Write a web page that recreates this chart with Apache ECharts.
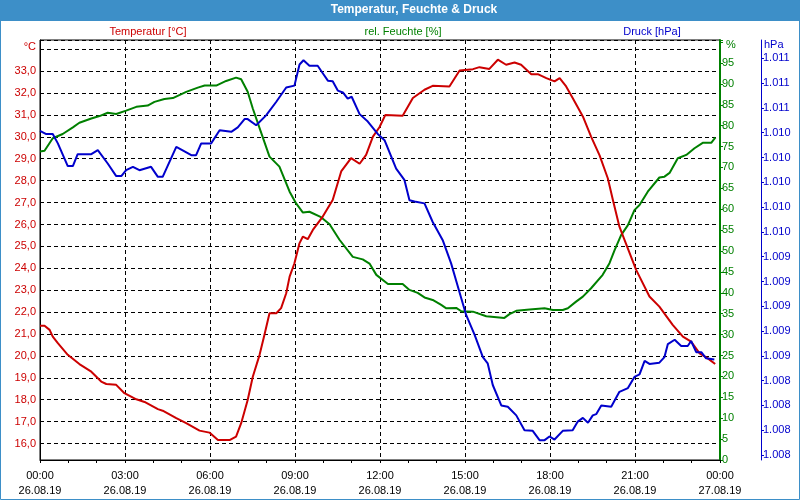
<!DOCTYPE html>
<html>
<head>
<meta charset="utf-8">
<script src="https://cdn.jsdelivr.net/npm/echarts@6/dist/echarts.min.js"></script>
<style>
html,body{margin:0;padding:0;background:#fff;}
#c{width:800px;height:500px;}
</style>
</head>
<body>
<div id="c"></div>
<script>
// Time of day in hours (0 = 26.08.19 00:00, 24 = 27.08.19 00:00)
const xTickHours = [0,3,6,9,12,15,18,21,24];
const seriesNames = ['Temperatur [°C]', 'rel. Feuchte [%]', 'Druck [hPa]'];

const tempTimes = [0.0,0.16,0.34,0.45,0.63,0.98,1.39,1.81,2.16,2.34,2.69,2.98,3.40,3.69,4.16,4.33,4.81,5.16,5.63,5.98,6.28,6.69,6.92,7.10,7.33,7.51,7.75,7.92,8.10,8.34,8.51,8.69,8.81,8.98,9.16,9.28,9.45,9.63,9.98,10.33,10.63,10.98,11.28,11.51,11.75,11.98,12.19,12.80,13.16,13.57,13.86,14.45,14.81,15.28,15.51,15.86,16.16,16.45,16.75,16.98,17.34,17.57,17.87,18.16,18.34,18.57,18.80,19.16,19.45,19.75,20.04,20.22,20.45,20.63,21.04,21.51,21.86,22.33,22.69,22.98,23.28,23.57,23.83];
const tempValues = [21.38,21.38,21.19,20.88,20.58,20.05,19.63,19.28,18.83,18.72,18.68,18.30,18.02,17.90,17.57,17.50,17.16,16.93,16.59,16.50,16.16,16.16,16.32,16.93,17.99,19.05,20.05,20.96,21.95,21.95,22.18,22.86,23.62,24.23,25.15,25.45,25.33,25.75,26.36,27.12,28.42,29.03,28.77,29.18,30.01,30.44,31.00,30.96,31.77,32.15,32.33,32.30,33.03,33.09,33.18,33.10,33.52,33.29,33.39,33.29,32.86,32.86,32.68,32.53,32.68,32.30,31.77,30.93,30.01,29.15,28.11,27.12,25.90,25.30,23.93,22.71,22.25,21.42,20.88,20.65,20.12,19.89,19.63];

const humTimes = [0.0,0.16,0.45,0.80,1.16,1.39,1.81,2.10,2.39,2.69,3.04,3.40,3.80,4.04,4.39,4.69,5.16,5.57,5.81,6.22,6.57,6.92,7.10,7.33,7.51,7.75,8.10,8.45,8.81,9.04,9.28,9.51,9.92,10.22,10.57,11.04,11.39,11.63,11.87,12.28,12.80,13.04,13.33,13.57,13.86,14.16,14.34,14.69,14.87,15.28,15.75,16.39,16.57,16.81,17.28,17.81,18.10,18.45,18.63,18.92,19.16,19.45,19.86,20.10,20.28,20.51,20.75,20.98,21.16,21.45,21.86,22.04,22.22,22.51,22.81,23.10,23.39,23.69,23.84];
const humValues = [73.8,74.0,77.0,78.0,79.6,80.7,81.7,82.3,83.1,82.8,83.6,84.5,84.8,85.7,86.4,86.6,88.1,89.1,89.6,89.6,90.7,91.5,91.1,88.1,84.1,79.4,72.6,70.2,64.2,61.4,59.2,59.4,58.1,56.4,52.7,48.6,48.0,47.0,44.3,42.1,42.1,40.7,40.0,38.9,38.3,37.1,36.3,36.4,35.6,35.5,34.4,34.0,34.9,35.7,36.0,36.3,35.9,35.9,36.3,37.9,39.1,41.1,44.3,47.1,50.2,53.8,56.2,59.8,61.0,64.2,67.6,67.8,68.7,72.2,73.0,74.6,75.9,75.9,77.2];

const presTimes = [0.0,0.22,0.45,0.63,0.98,1.16,1.33,1.81,2.04,2.39,2.69,2.87,3.04,3.28,3.51,3.92,4.16,4.33,4.81,5.10,5.34,5.51,5.69,6.04,6.34,6.75,6.98,7.22,7.33,7.63,7.98,8.34,8.69,8.98,9.16,9.30,9.51,9.80,9.98,10.16,10.33,10.51,10.69,10.86,11.00,11.28,11.57,11.92,12.16,12.57,12.86,13.04,13.22,13.57,13.86,14.22,14.51,14.75,15.04,15.34,15.63,15.80,15.98,16.28,16.51,16.81,17.10,17.39,17.63,17.81,17.98,18.16,18.45,18.80,18.98,19.16,19.34,19.51,19.63,19.81,20.16,20.45,20.75,20.98,21.16,21.34,21.51,21.86,22.04,22.16,22.40,22.63,22.86,22.98,23.16,23.34,23.51,23.80];
const presValues = [1010.415,1010.389,1010.389,1010.314,1010.131,1010.131,1010.227,1010.227,1010.260,1010.152,1010.050,1010.050,1010.098,1010.125,1010.098,1010.125,1010.044,1010.044,1010.286,1010.250,1010.219,1010.219,1010.314,1010.314,1010.420,1010.407,1010.443,1010.510,1010.510,1010.460,1010.540,1010.650,1010.765,1010.780,1010.950,1010.985,1010.940,1010.940,1010.880,1010.820,1010.815,1010.740,1010.725,1010.675,1010.690,1010.550,1010.490,1010.390,1010.340,1010.110,1010.020,1009.856,1009.845,1009.830,1009.680,1009.530,1009.346,1009.157,1008.930,1008.770,1008.590,1008.540,1008.365,1008.200,1008.190,1008.120,1008.000,1007.995,1007.920,1007.920,1007.950,1007.925,1007.995,1008.000,1008.070,1008.100,1008.060,1008.120,1008.130,1008.200,1008.190,1008.310,1008.340,1008.430,1008.450,1008.560,1008.535,1008.545,1008.590,1008.695,1008.730,1008.680,1008.680,1008.720,1008.630,1008.630,1008.580,1008.570];

const zip = (a, b) => a.map((t, i) => [t, b[i]]);

const RED = '#cc0000', GREEN = '#008000', BLUE = '#0000cc', BAR = '#3d8fc8';
const FONT = 'Liberation Sans, Arial, sans-serif';

const chart = echarts.init(document.getElementById('c'), null, {renderer: 'canvas'});

const pad2 = n => (n < 10 ? '0' : '') + n;
const legendText = (text, x, color) => ({
  type: 'text', x: x, y: 32, silent: true, z: 50,
  style: {text: text, fill: color, font: '11px ' + FONT, textAlign: 'center', textVerticalAlign: 'middle'}
});

chart.setOption({
  animation: false,
  backgroundColor: '#fff',
  textStyle: {fontFamily: FONT, fontSize: 11},
  title: {
    text: 'Temperatur, Feuchte & Druck',
    left: 414, top: 4, padding: 0, textAlign: 'center',
    textStyle: {color: '#fff', fontWeight: 'bold', fontSize: 12, fontFamily: FONT}
  },
  graphic: [
    {type: 'rect', z: -10, silent: true, shape: {x: 0, y: 0, width: 800, height: 21}, style: {fill: BAR}},
    {type: 'rect', z: 100, silent: true, shape: {x: 0.5, y: 0.5, width: 799, height: 499}, style: {fill: null, stroke: BAR, lineWidth: 1}},
    legendText(seriesNames[0], 148, RED),
    legendText(seriesNames[1], 403, GREEN),
    legendText(seriesNames[2], 652, BLUE)
  ],
  grid: {left: 40, right: 80, top: 40, bottom: 40, show: true, borderColor: '#000', borderWidth: 1, backgroundColor: '#fff'},
  xAxis: {
    type: 'value', min: xTickHours[0], max: xTickHours[xTickHours.length - 1], interval: 3,
    axisLine: {lineStyle: {color: '#000', width: 1}},
    axisTick: {show: true, length: 3, lineStyle: {color: '#000'}},
    minorTick: {show: true, splitNumber: 3, length: 3, lineStyle: {color: '#000'}},
    splitLine: {show: true, lineStyle: {color: '#000', type: [4, 3], width: 1}},
    axisLabel: {
      color: '#000', fontSize: 11, lineHeight: 14.5, margin: 9, fontFamily: FONT,
      formatter: v => {
        const day = v >= 24 ? 27 : 26;
        const h = v % 24;
        return pad2(h) + ':00\n' + day + '.08.19';
      }
    }
  },
  yAxis: [
    {
      type: 'value', position: 'left', min: 15.25, max: 34.42, splitNumber: 19, minInterval: 1, maxInterval: 1,
      name: '°C', nameLocation: 'end', nameGap: -7,
      nameTextStyle: {color: RED, align: 'right', verticalAlign: 'middle', padding: [0, 4, 0, 0], fontSize: 11, fontFamily: FONT},
      axisLine: {show: true, lineStyle: {color: '#000', width: 1}},
      axisTick: {show: false},
      splitLine: {show: true, lineStyle: {color: '#000', type: [4, 3], width: 1}},
      axisLabel: {
        color: RED, margin: 4, fontSize: 11, fontFamily: FONT,
        formatter: v => (Math.abs(v - Math.round(v)) > 1e-6 || v > 33.5) ? '' : v.toFixed(1).replace('.', ',')
      }
    },
    {
      type: 'value', position: 'right', offset: 0, min: 0, max: 100.5, interval: 5,
      name: '%', nameLocation: 'end', nameGap: -5,
      nameTextStyle: {color: GREEN, align: 'left', verticalAlign: 'middle', padding: [0, 0, 0, 6], fontSize: 11, fontFamily: FONT},
      axisLine: {show: true, lineStyle: {color: GREEN, width: 2}},
      axisTick: {show: true, length: 3, lineStyle: {color: GREEN}},
      splitLine: {show: false},
      axisLabel: {
        color: GREEN, margin: 2, fontSize: 11, fontFamily: FONT,
        formatter: v => (v > 99 || Math.abs(v - Math.round(v)) > 1e-6) ? '' : String(v)
      }
    },
    {
      type: 'value', position: 'right', offset: 41, min: 1007.76, max: 1011.148, splitNumber: 17, minInterval: 0.2, maxInterval: 0.2,
      name: 'hPa', nameLocation: 'end', nameGap: -5,
      nameTextStyle: {color: BLUE, align: 'left', verticalAlign: 'middle', padding: [0, 0, 0, 3], fontSize: 11, fontFamily: FONT},
      axisLine: {show: true, lineStyle: {color: BLUE, width: 1}},
      axisTick: {show: true, length: 3, lineStyle: {color: BLUE}},
      splitLine: {show: false},
      axisLabel: {
        color: BLUE, margin: 2, fontSize: 11, fontFamily: FONT, showMinLabel: false, showMaxLabel: false,
        formatter: v => {
          const r = Math.round(v);
          return Math.floor(r / 1000) + '.' + String(r % 1000).padStart(3, '0');
        }
      }
    }
  ],
  series: [
    {name: seriesNames[0], type: 'line', yAxisIndex: 0, data: zip(tempTimes, tempValues), showSymbol: false, symbol: 'none', lineStyle: {color: RED, width: 2}, itemStyle: {color: RED}, z: 3},
    {name: seriesNames[1], type: 'line', yAxisIndex: 1, data: zip(humTimes, humValues), showSymbol: false, symbol: 'none', lineStyle: {color: GREEN, width: 2}, itemStyle: {color: GREEN}, z: 2},
    {name: seriesNames[2], type: 'line', yAxisIndex: 2, data: zip(presTimes, presValues), showSymbol: false, symbol: 'none', lineStyle: {color: BLUE, width: 2}, itemStyle: {color: BLUE}, z: 4}
  ]
});
</script>
</body>
</html>
